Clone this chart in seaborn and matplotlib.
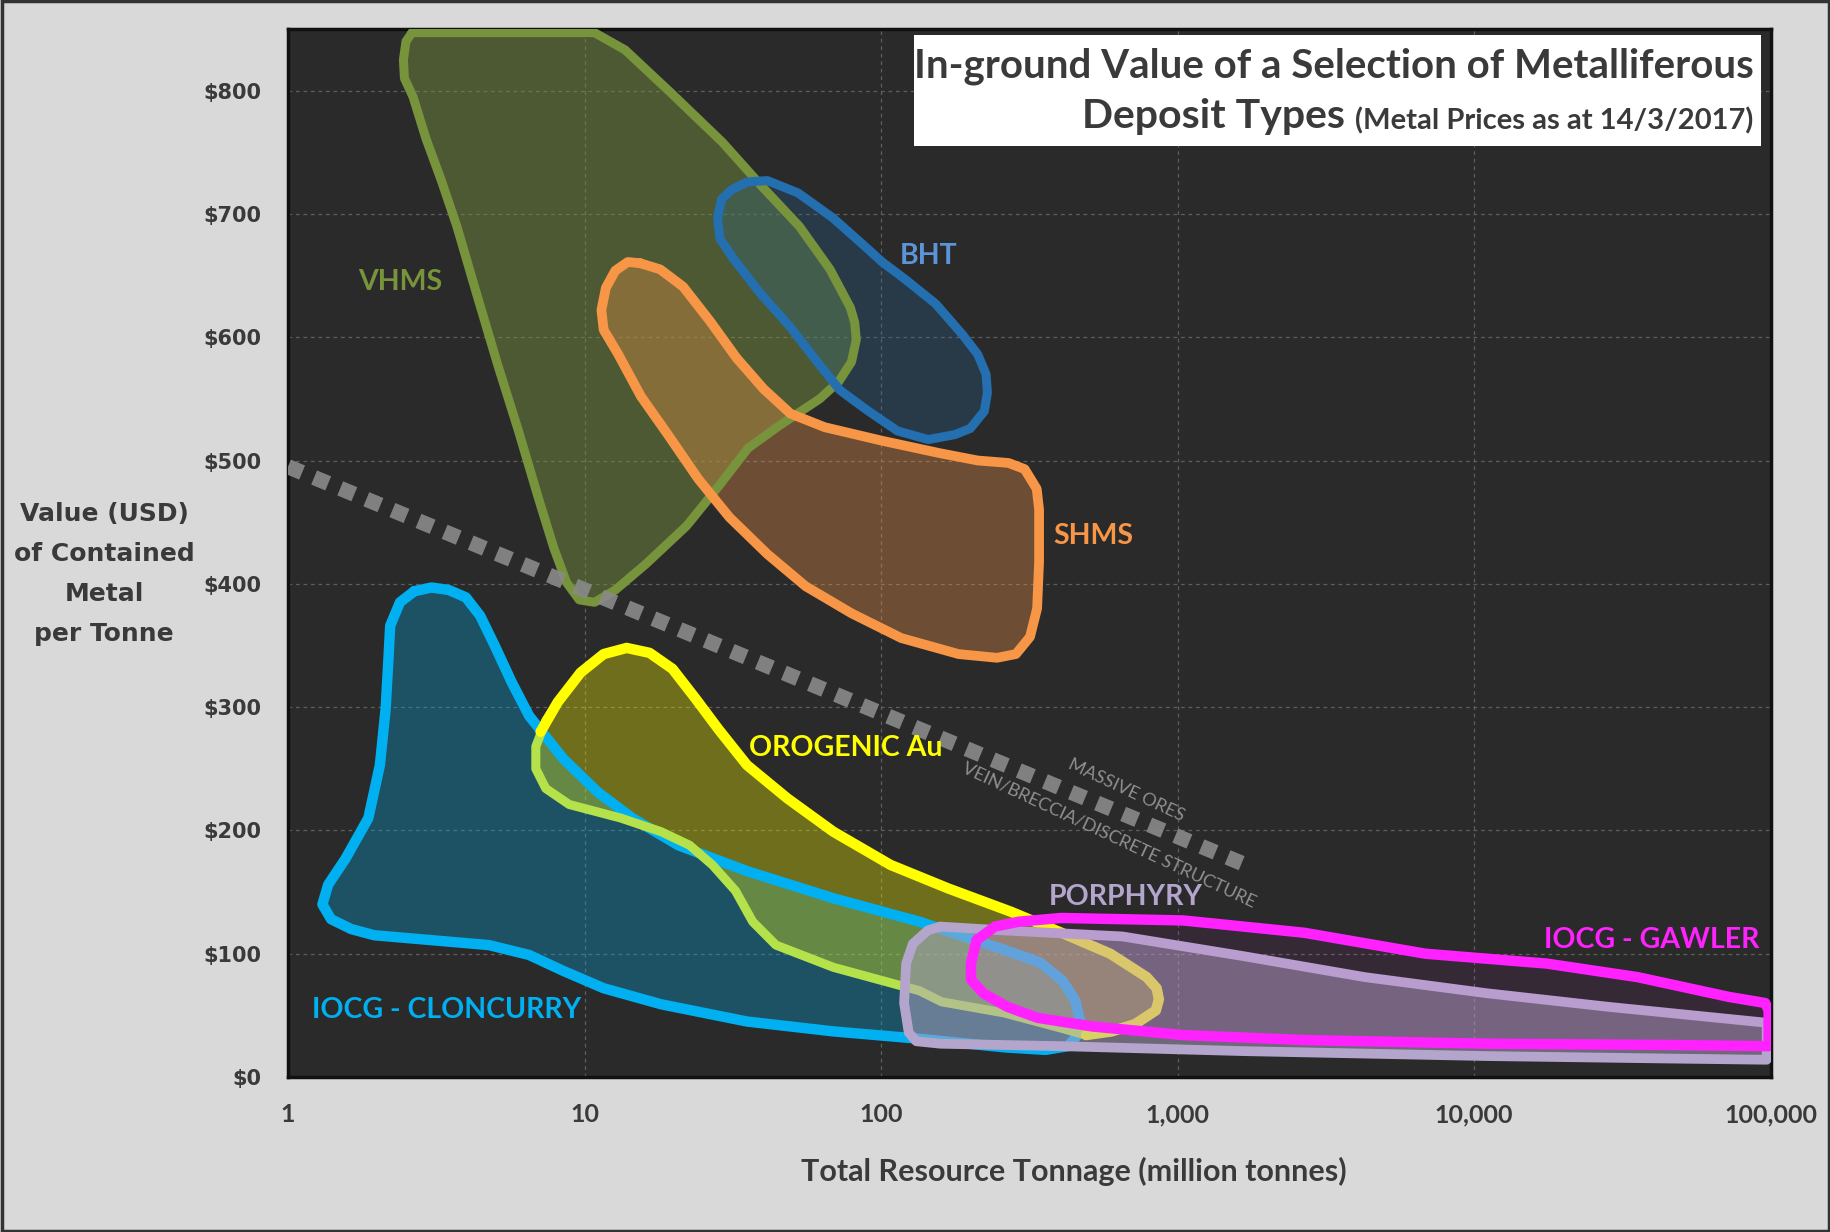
import matplotlib
matplotlib.use("Agg")
import matplotlib.pyplot as plt
import seaborn as sns
from matplotlib.patches import Rectangle
from matplotlib.ticker import FixedLocator, NullLocator

# Axis ticks
x_ticks = [1, 10, 100, 1000, 10000, 100000]
x_tick_labels = ['1', '10', '100', '1,000', '10,000', '100,000']
y_ticks = [0, 100, 200, 300, 400, 500, 600, 700, 800]
y_tick_labels = ['$0', '$100', '$200', '$300', '$400', '$500', '$600', '$700', '$800']

# Deposit outlines: tonnage (Mt) and value (USD/t)
vhms_t = [2.62, 2.50, 2.45, 2.47, 2.64, 2.92, 3.29, 3.71, 4.34, 5.09, 5.97, 7.0, 7.88, 8.7, 9.6,
          10.8, 12.7, 16.1, 22.1, 28.1, 35.6, 45.2, 62.1, 72.0, 79.5, 82.5, 81.5, 78.8, 67.3,
          53.0, 40.1, 29.2, 19.6, 13.7, 10.8]
vhms_v = [847, 840, 825, 810, 795, 761, 727, 690, 634, 578, 525, 469, 429, 401, 387,
          385, 395, 416, 447, 478, 510, 528, 550, 564, 580, 598, 612, 624, 655,
          690, 721, 758, 798, 833, 847]

bht_t = [29.0, 31.5, 35.5, 41.4, 52.5, 68.6, 87.0, 100.9, 120.6, 153.0, 188.4, 212.0, 226.0,
         228.4, 223.0, 200.0, 177.3, 144.2, 113.6, 89.5, 72.7, 60.9, 49.5, 39.0, 31.7, 28.6, 28.1]
bht_v = [712, 720, 726, 727, 717, 697, 675, 661, 647, 627, 602, 586, 570,
         555, 540, 526, 521, 517, 524, 541, 557, 580, 608, 636, 664, 680, 697]

shms_t = [15.4, 14.0, 12.7, 11.8, 11.4, 11.6, 13.0, 15.5, 19.1, 24.2, 30.8, 41.4, 55.7, 79.6,
          117.0, 182.7, 246.0, 285.0, 318.0, 336.0, 341.2, 341.2, 335.0, 305.0, 269.2, 212.0,
          157.4, 100.9, 64.6, 49.5, 40.2, 32.6, 26.5, 21.5, 18.0]
shms_v = [660, 661, 654, 640, 622, 606, 586, 552, 521, 485, 454, 424, 398, 376,
          356, 343, 340, 343, 357, 380, 418, 460, 477, 493, 498, 500,
          506, 516, 527, 538, 558, 583, 613, 641, 655]

clon_t = [2.666, 2.385, 2.211, 2.181, 2.133, 2.041, 1.866, 1.562, 1.366, 1.306, 1.397, 1.633,
          1.951, 3.046, 4.757, 6.499, 8.49, 11.6, 18.11, 35.33, 68.98, 134.6, 262.5, 359.0,
          427.0, 464.0, 469.0, 452.0, 410.0, 343.0, 262.0, 134.6, 68.98, 35.33, 20.7, 14.5,
          11.09, 8.49, 6.5, 5.685, 4.975, 4.449, 3.98, 3.483, 3.047]
clon_v = [394, 385, 366, 339, 298, 253, 210, 177, 156, 140, 128, 120,
          115, 111, 107, 99, 86, 72, 59, 45, 37, 31, 24, 22,
          25, 35, 46, 62, 78, 93, 103, 126, 145, 167, 188, 210,
          231, 258, 293, 320, 350, 374, 389, 395, 397]

# Orogenic Au: yellow upper edge and lime lower edge
oro_top_t = [7.11, 8.12, 9.70, 11.6, 13.87, 16.57, 19.8, 23.67, 28.3, 35.3, 48.3, 69.0, 107.7,
             168.2, 274.6, 406, 593, 787, 850, 865, 845, 720, 600, 491]
oro_top_v = [280, 304, 328, 343, 348, 344, 331, 307, 282, 253, 226, 199, 172,
             153, 134, 117, 100, 81, 72, 63, 54, 43, 37, 34]
oro_low_t = [491, 400, 260, 160, 134.6, 69.0, 44.2, 36.9, 32.3, 27.0, 22.6, 18.1, 13.26, 8.88,
             7.4, 6.85, 6.85, 7.4, 8.12]
oro_low_v = [34, 40, 52, 61, 70, 89, 107, 126, 151, 172, 188, 199, 210, 221,
             234, 250, 268, 289, 304]

porph_t = [158.6, 254, 652, 1671, 4286, 10990, 28180, 97000, 97000, 45080, 10990, 1671, 406,
           158.6, 131.5, 124.0, 119.6, 121.5, 128.0, 144.0, 158.6]
porph_v = [122, 119, 114, 98, 81, 68, 57, 44, 14, 15, 17, 21, 25,
           27, 29, 36, 60, 92, 108, 119, 122]

gawl_t = [210, 242, 292, 406, 1043, 2673, 6852, 17580, 35610, 72250, 95900, 98500, 98500,
          45080, 10990, 2673, 1043, 515, 337, 266, 221, 201, 201, 210]
gawl_v = [111, 122, 126, 129, 127, 117, 100, 92, 81, 65, 60, 54, 25,
          26, 27, 30, 34, 41, 48, 57, 68, 79, 92, 111]

# Dividing line between massive ores and vein-type deposits
div_t = [1, 1700]
div_v = [495, 172]

sns.set_style("dark", {"axes.facecolor": "#2a2a2a", "figure.facecolor": "#d9d9d9"})
plt.rcParams['font.family'] = ['Lato', 'DejaVu Sans']

fig = plt.figure(figsize=(18.31, 12.32), dpi=100)
ax = fig.add_axes([0.1573, 0.1258, 0.8097, 0.8507])
ax.set_xscale('log')


def closed(a):
    return list(a) + [a[0]]


def outline(t, v, color, lw, z):
    sns.lineplot(x=t, y=v, sort=False, estimator=None, color=color, lw=lw,
                 solid_joinstyle='round', solid_capstyle='round', ax=ax, zorder=z)


def shape(t, v, color, fill_alpha, lw=7):
    ax.fill(t, v, color=color, alpha=fill_alpha, lw=0, zorder=2)
    outline(closed(t), closed(v), color, lw, 3)


shape(vhms_t, vhms_v, '#77933c', 0.45, lw=6.5)
shape(shms_t, shms_v, '#f79646', 0.33)
shape(bht_t, bht_v, '#236fb0', 0.22, lw=6.5)

# lower group: fills first, then outlines
ax.fill(clon_t, clon_v, color='#00b0f0', alpha=0.3, lw=0, zorder=2)
ax.fill(oro_top_t + oro_low_t, oro_top_v + oro_low_v, color='#ffff00', alpha=0.32, lw=0, zorder=2)
outline(closed(clon_t), closed(clon_v), '#00b0f0', 7.5, 3)
outline(oro_low_t, oro_low_v, '#b5e24a', 6.5, 3)
outline(oro_top_t, oro_top_v, '#ffff00', 7.5, 3)

ax.fill(porph_t, porph_v, color='#b2a6c6', alpha=0.5, lw=0, zorder=4)
outline(porph_t, porph_v, '#b4a5cc', 7, 4)
ax.fill(gawl_t, gawl_v, color='#ff22ff', alpha=0.06, lw=0, zorder=5)
outline(gawl_t, gawl_v, '#ff22ff', 7.5, 5)

sns.lineplot(x=div_t, y=div_v, sort=False, estimator=None, color='#8a8a8a', alpha=0.9,
             lw=11, linestyle=(0, (1, 0.85)), dash_capstyle='butt', ax=ax, zorder=6)

ax.set_xlim(1, 100000)
ax.set_ylim(0, 850)
ax.xaxis.set_major_locator(FixedLocator(x_ticks))
ax.xaxis.set_minor_locator(NullLocator())
ax.set_xticklabels(x_tick_labels, fontsize=18, fontweight='bold', color='#3a3a3a')
ax.set_yticks(y_ticks)
ax.set_yticklabels(y_tick_labels, fontsize=15, fontweight='bold', color='#3a3a3a',
                   family='DejaVu Sans')
ax.tick_params(axis='both', length=0)
ax.tick_params(axis='x', pad=19)
ax.tick_params(axis='y', pad=19)
ax.grid(True, color='#5e5e5e', linestyle=(0, (3, 3)), lw=0.9, zorder=1)
ax.set_axisbelow(True)
for s in ax.spines.values():
    s.set_visible(True)
    s.set_color('#111111')
    s.set_linewidth(2.5)
ax.set_xlabel('')
ax.set_ylabel('')

# deposit type labels
label_kw = dict(ha='center', va='center', fontsize=20.5, fontweight='bold', zorder=7)
ax.text(2.39, 645, 'VHMS', color='#77933c', **label_kw)
ax.text(145, 666, 'BHT', color='#5b95d8', **label_kw)
ax.text(521, 439, 'SHMS', color='#f79646', **label_kw)
ax.text(76.2, 267, 'OROGENIC Au', color='#ffff00', **label_kw)
ax.text(671, 146, 'PORPHYRY', color='#b4a5cc', **label_kw)
ax.text(39650, 111, 'IOCG - GAWLER', color='#ff22ff', **label_kw)
ax.text(3.43, 54, 'IOCG - CLONCURRY', color='#00b0f0', **label_kw)

ax.text(671, 233, 'MASSIVE ORES', color='#8f8f8f', fontsize=13, rotation=-25,
        rotation_mode='anchor', ha='center', va='center', zorder=7)
ax.text(586, 196, 'VEIN/BRECCIA/DISCRETE STRUCTURE', color='#8f8f8f', fontsize=13,
        rotation=-25, rotation_mode='anchor', ha='center', va='center', zorder=7)

# title box
ax.add_patch(Rectangle((0.422, 0.8884), 0.5713, 0.1059, transform=ax.transAxes,
                       facecolor='white', edgecolor='none', zorder=8))
ax.text(0.9885, 0.9647, 'In-ground Value of a Selection of Metalliferous', transform=ax.transAxes,
        ha='right', va='center', fontsize=29, fontweight='bold', color='#3a3a3a', zorder=9)
sub = ax.text(0.9885, 0.912, '(Metal Prices as at 14/3/2017)', transform=ax.transAxes,
              ha='right', va='center', fontsize=21, fontweight='bold', color='#3a3a3a', zorder=9)
ax.annotate('Deposit Types ', xy=(0, 0), xycoords=sub, ha='right', va='bottom',
            fontsize=29.5, fontweight='bold', color='#3a3a3a', zorder=9)

fig.text(0.0568, 0.5340, 'Value (USD)\nof Contained\nMetal\nper Tonne', ha='center', va='center',
         multialignment='center', fontsize=18, fontweight='bold', color='#3a3a3a',
         family='DejaVu Sans', linespacing=1.85)
fig.text(0.5866, 0.0495, 'Total Resource Tonnage (million tonnes)', ha='center', va='center',
         fontsize=22, fontweight='bold', color='#3a3a3a')

fig.add_artist(Rectangle((0.001, 0.001), 0.998, 0.998, transform=fig.transFigure, fill=False,
                         edgecolor='#333333', lw=2.5))

fig.savefig('out.png', dpi=100)
